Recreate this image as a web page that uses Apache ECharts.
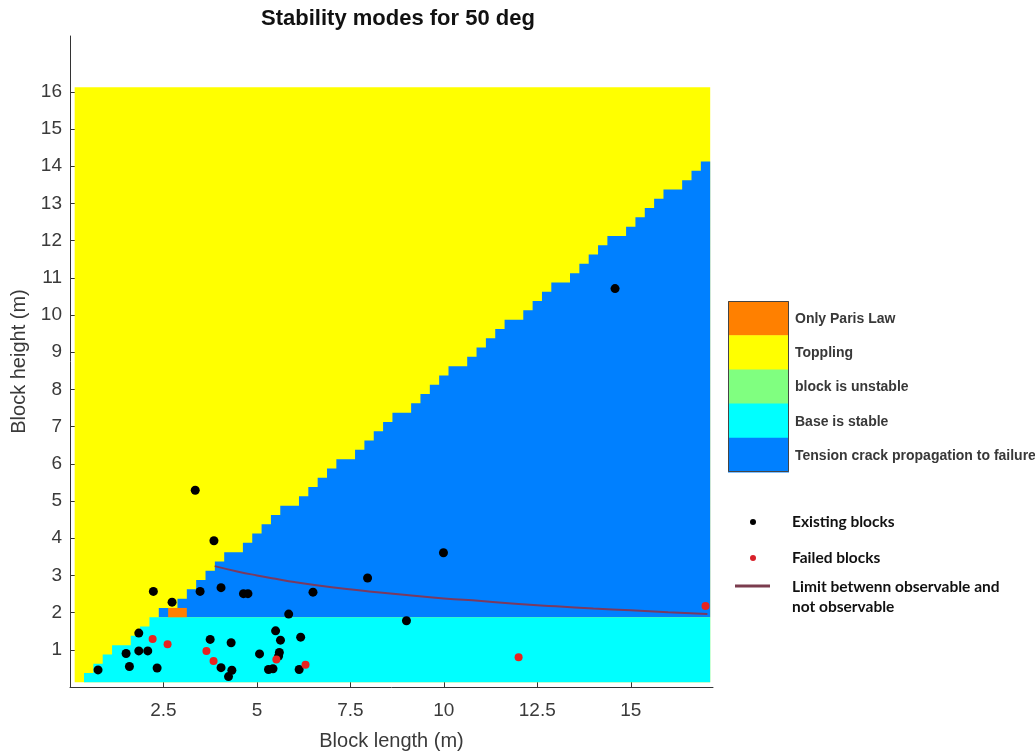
<!DOCTYPE html>
<html>
<head>
<meta charset="utf-8">
<title>Stability modes for 50 deg</title>
<script src="https://cdn.jsdelivr.net/npm/echarts@6/dist/echarts.min.js"></script>
<style>
  html, body { margin: 0; padding: 0; background: #fff; }
  #chart { width: 1035px; height: 756px; }
</style>
</head>
<body>
<div id="chart"></div>
<script>
// 稳定模式网格：单元 0.25 m，边界从 0.125 m 开始
const cellSize = 0.25;
const cellOrigin = 0.125;
const nCols = 68;
const nRows = 64;
const baseTopRow = 7; // 青色区域顶部（行 0-6）

// 蓝色区域：从第 9 列开始，每列的顶部行号
const blueFirstCol = 9;
const blueTopRow = [
  8, 8, 9, 10, 11, 12, 13, 14, 14, 15, 16, 17, 18, 19, 19, 20, 21, 22, 23, 24,
  24, 25, 26, 27, 28, 29, 29, 30, 31, 32, 33, 34, 34, 35, 36, 37, 38, 39, 39, 40,
  41, 42, 43, 43, 44, 45, 46, 47, 48, 48, 49, 50, 51, 52, 53, 53, 54, 55, 56
];
// 青色区域：每行（0-6）的起始列
const cyanFirstCol = [1, 2, 3, 4, 6, 7, 8];
// 橙色单元：[起始列, 结束列(不含), 行]
const orangeSpans = [[10, 12, 7]];

// 现有块体 [长度, 高度]
const existingBlocks = [
  [14.58, 10.71], [3.35, 5.29], [3.85, 3.93], [9.99, 3.61], [7.96, 2.93],
  [6.5, 2.55], [4.64, 2.51], [4.76, 2.51], [4.04, 2.67], [3.48, 2.57],
  [2.23, 2.57], [5.85, 1.96], [9.0, 1.78], [2.73, 2.28],
  [1.84, 1.45], [1.5, 0.9], [1.84, 0.97], [2.08, 0.97], [0.75, 0.46],
  [1.59, 0.55], [2.33, 0.51], [3.75, 1.28], [4.31, 1.19], [4.04, 0.52],
  [4.33, 0.45], [4.24, 0.28], [5.07, 0.89], [5.5, 1.51], [5.63, 1.26],
  [5.6, 0.93], [5.58, 0.83], [5.31, 0.47], [5.43, 0.49], [6.17, 1.34],
  [6.13, 0.47]
];
// 已破坏块体
const failedBlocks = [
  [2.21, 1.29], [2.61, 1.15], [3.65, 0.97], [3.84, 0.7], [5.52, 0.74],
  [6.3, 0.6], [12.0, 0.8], [17.0, 2.18]
];
// 可观测界限
const limitLength = [3.87, 4.5, 5.0, 5.5, 6.0, 7.0, 8.0, 9.0, 10.0, 11.0, 12.0, 13.0, 14.0, 15.0, 16.0, 17.05];
const limitHeight = [3.25, 3.1, 3.0, 2.91, 2.82, 2.68, 2.57, 2.47, 2.38, 2.31, 2.23, 2.17, 2.11, 2.06, 2.01, 1.96];

const xTicks = [2.5, 5, 7.5, 10, 12.5, 15];
const yTicks = [1, 2, 3, 4, 5, 6, 7, 8, 9, 10, 11, 12, 13, 14, 15, 16];

const modeLabels = ['Only Paris Law', 'Toppling', 'block is unstable', 'Base is stable', 'Tension crack propagation to failure'];
const modeColors = ['#ff8000', '#ffff00', '#80ff80', '#00ffff', '#0080ff'];

const font = "'Liberation Sans', Arial, sans-serif";
const textColor = '#3a3a3a';

function edge(i) {
  return cellOrigin + cellSize * i;
}

// 区域多边形
const regions = [];
regions.push({
  color: modeColors[1],
  pts: [[edge(0), edge(0)], [edge(nCols), edge(0)], [edge(nCols), edge(nRows)], [edge(0), edge(nRows)]]
});
const bluePts = [[edge(blueFirstCol), edge(baseTopRow)]];
blueTopRow.forEach((t, i) => {
  const c = blueFirstCol + i;
  bluePts.push([edge(c), edge(t)]);
  bluePts.push([edge(c + 1), edge(t)]);
});
bluePts.push([edge(nCols), edge(baseTopRow)]);
regions.push({color: modeColors[4], pts: bluePts});
const cyanPts = [[edge(nCols), edge(0)]];
cyanFirstCol.forEach((c, r) => {
  cyanPts.push([edge(c), edge(r)]);
  cyanPts.push([edge(c), edge(r + 1)]);
});
cyanPts.push([edge(nCols), edge(baseTopRow)]);
regions.push({color: modeColors[3], pts: cyanPts});
orangeSpans.forEach(([c0, c1, r]) => {
  regions.push({
    color: modeColors[0],
    pts: [[edge(c0), edge(r)], [edge(c1), edge(r)], [edge(c1), edge(r + 1)], [edge(c0), edge(r + 1)]]
  });
});

// 图例
const legendElements = [];
const barX = 728, barY = 301, barW = 61, blockH = 34.2;
modeColors.forEach((color, i) => {
  legendElements.push({
    type: 'rect',
    shape: {x: barX, y: barY + blockH * i, width: barW, height: blockH + 0.5},
    style: {fill: color}
  });
  legendElements.push({
    type: 'text',
    x: 795,
    y: barY + blockH * i + blockH / 2 + 1,
    style: {
      text: modeLabels[i], font: 'bold 14px ' + font, fill: '#383838',
      align: 'left', verticalAlign: 'middle', textAlign: 'left', textVerticalAlign: 'middle'
    }
  });
});
legendElements.push({
  type: 'rect',
  shape: {x: barX + 0.5, y: barY + 0.5, width: barW - 1, height: blockH * 5 - 1},
  style: {fill: 'none', stroke: '#444', lineWidth: 1}
});
const noteFont = 'bold 15.5px Lato, sans-serif';
legendElements.push(
  {type: 'circle', shape: {cx: 753, cy: 522, r: 3}, style: {fill: '#000'}},
  {type: 'circle', shape: {cx: 753, cy: 558, r: 3}, style: {fill: '#d8202a'}},
  {type: 'line', shape: {x1: 735, y1: 586, x2: 770, y2: 586}, style: {stroke: '#7b3c4e', lineWidth: 3}}
);
[['Existing blocks', 522], ['Failed blocks', 558], ['Limit betwenn observable and', 587], ['not observable', 607]].forEach(([t, y]) => {
  legendElements.push({
    type: 'text', x: 792, y: y,
    style: {
      text: t, font: noteFont, fill: '#111',
      align: 'left', verticalAlign: 'middle', textAlign: 'left', textVerticalAlign: 'middle'
    }
  });
});
legendElements.push({
  type: 'text', x: 398, y: 19,
  style: {
    text: 'Stability modes for 50 deg', font: 'bold 22px ' + font, fill: '#111',
    align: 'center', verticalAlign: 'middle', textAlign: 'center', textVerticalAlign: 'middle'
  }
});

const myChart = echarts.init(document.getElementById('chart'));
const option = {
  animation: false,
  backgroundColor: '#fff',
  textStyle: {fontFamily: font},
  grid: {left: 70, right: 322, top: 36, bottom: 64, containLabel: false},
  xAxis: {
    type: 'value',
    min: 0,
    max: 17.2,
    name: 'Block length (m)',
    nameLocation: 'middle',
    nameGap: 44,
    nameTextStyle: {fontSize: 20, color: textColor, fontFamily: font},
    axisLine: {show: true, onZero: false, lineStyle: {color: '#333', width: 1}},
    axisTick: {show: true, inside: true, length: 5, customValues: xTicks, lineStyle: {color: '#333'}},
    axisLabel: {customValues: xTicks, fontSize: 19, color: textColor, margin: 14, fontFamily: font},
    splitLine: {show: false}
  },
  yAxis: {
    type: 'value',
    min: 0,
    max: 17.5,
    name: 'Block height (m)',
    nameLocation: 'middle',
    nameGap: 36,
    nameTextStyle: {fontSize: 20, color: textColor, fontFamily: font},
    axisLine: {show: true, onZero: false, lineStyle: {color: '#333', width: 1}},
    axisTick: {show: true, inside: true, length: 5, customValues: yTicks, lineStyle: {color: '#333'}},
    axisLabel: {customValues: yTicks, fontSize: 19, color: textColor, margin: 8, fontFamily: font},
    splitLine: {show: false}
  },
  graphic: {elements: legendElements},
  series: [
    {
      type: 'custom',
      silent: true,
      clip: true,
      data: regions.map((r, i) => [i]),
      encode: {x: [], y: []},
      renderItem: (params, api) => {
        const reg = regions[params.dataIndex];
        return {
          type: 'polygon',
          shape: {points: reg.pts.map(p => api.coord(p))},
          style: {fill: reg.color}
        };
      },
      z: 1
    },
    {
      type: 'line',
      data: limitLength.map((x, i) => [x, limitHeight[i]]),
      smooth: true,
      showSymbol: false,
      lineStyle: {color: '#7a3a60', width: 2},
      z: 3
    },
    {
      type: 'scatter',
      data: existingBlocks,
      symbolSize: 9,
      itemStyle: {color: '#000', opacity: 1},
      z: 4
    },
    {
      type: 'scatter',
      data: failedBlocks,
      symbolSize: 8,
      itemStyle: {color: '#e8231f', opacity: 1},
      z: 5
    }
  ]
};
myChart.setOption(option);
</script>
</body>
</html>
